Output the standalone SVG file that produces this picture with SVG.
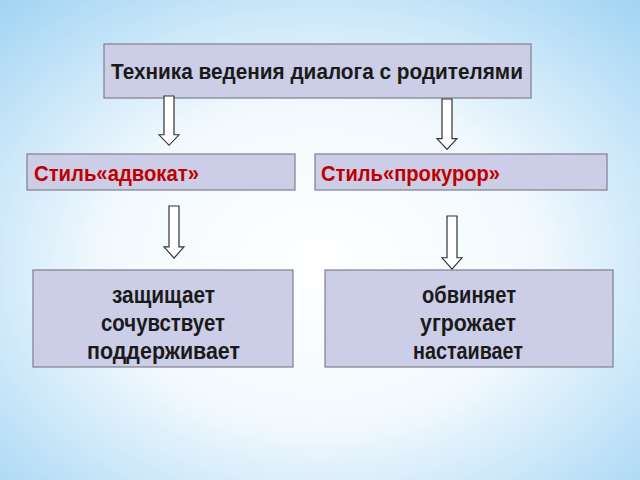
<svg xmlns="http://www.w3.org/2000/svg" width="640" height="480" viewBox="0 0 640 480">
<defs>
<radialGradient id="bg" cx="0.5" cy="0.55" r="0.75">
<stop offset="0" stop-color="#ffffff"/>
<stop offset="0.45" stop-color="#f2f9fe"/>
<stop offset="1" stop-color="#9fd3f3"/>
</radialGradient>
<style>
.box{fill:#cccde6;stroke:#7f7f8a;stroke-width:1.2}
.t{font-family:"Liberation Sans",Arial,sans-serif;font-weight:bold;font-size:23px;fill:#1a1a1a}
.s{font-size:22px}
.r{fill:#c00000}
.arr{fill:#fff;stroke:#333;stroke-width:1.2}
</style>
<path id="a" d="M-5,0 H5 V44 H10 L0,56 L-10,44 H-5 Z"/>
</defs>
<rect width="640" height="480" fill="url(#bg)"/>
<g id="top"><rect class="box" x="104" y="44" width="427" height="54"/><text class="t s" x="111" y="79" textLength="412" lengthAdjust="spacingAndGlyphs">Техника ведения диалога с родителями</text></g>
<g id="advocate"><rect class="box" x="27" y="154" width="268" height="36"/><text class="t s r" x="34" y="181" textLength="165" lengthAdjust="spacingAndGlyphs">Стиль«адвокат»</text></g>
<g id="prosecutor"><rect class="box" x="315" y="154" width="292" height="36"/><text class="t s r" x="321" y="181" textLength="179" lengthAdjust="spacingAndGlyphs">Стиль«прокурор»</text></g>
<g id="advocate-list"><rect class="box" x="33" y="270" width="260" height="97"/>
<text class="t" x="112" y="303" textLength="103" lengthAdjust="spacingAndGlyphs">защищает</text>
<text class="t" x="101" y="331" textLength="124" lengthAdjust="spacingAndGlyphs">сочувствует</text>
<text class="t" x="87" y="359" textLength="153" lengthAdjust="spacingAndGlyphs">поддерживает</text></g>
<g id="prosecutor-list"><rect class="box" x="325" y="270" width="288" height="97"/>
<text class="t" x="422" y="303" textLength="94" lengthAdjust="spacingAndGlyphs">обвиняет</text>
<text class="t" x="420" y="331" textLength="96" lengthAdjust="spacingAndGlyphs">угрожает</text>
<text class="t" x="413" y="359" textLength="110" lengthAdjust="spacingAndGlyphs">настаивает</text></g>
<g id="connectors">
<use href="#a" class="arr" transform="translate(169,96) scale(1,0.88)"/>
<use href="#a" class="arr" transform="translate(447,99) scale(1,0.9)"/>
<use href="#a" class="arr" transform="translate(174,206) scale(1,0.93)"/>
<use href="#a" class="arr" transform="translate(452,216) scale(1,0.95)"/>
</g>
</svg>
